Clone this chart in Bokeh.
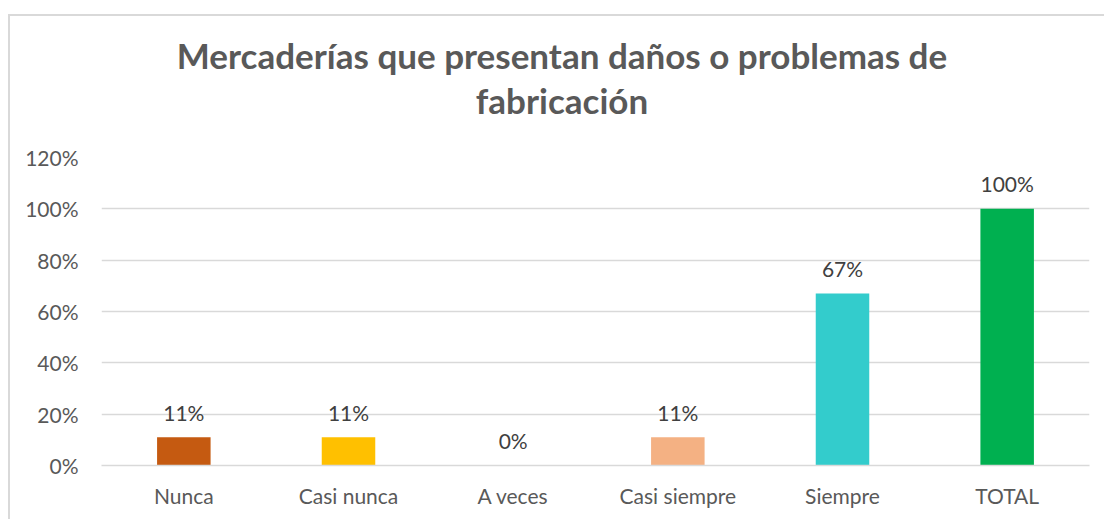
from bokeh.plotting import figure
from bokeh.models import FactorRange, Range1d, FixedTicker, NumeralTickFormatter, ColumnDataSource, Div
from bokeh.layouts import column
from bokeh.core.properties import value as v
from bokeh.embed import file_html
from bokeh.resources import INLINE

categories = ["Nunca", "Casi nunca", "A veces", "Casi siempre", "Siempre", "TOTAL"]
values = [0.11, 0.11, 0.0, 0.11, 0.67, 1.00]
value_labels = ["11%", "11%", "0%", "11%", "67%", "100%"]
colors = ["#C55A11", "#FFC000", "#A5A5A5", "#F4B183", "#33CCCC", "#00B050"]
y_ticks = [0, 0.2, 0.4, 0.6, 0.8, 1.0, 1.2]
title_lines = ["Mercaderías que presentan daños o problemas de", "fabricación"]

FONT = "Lato"
W = 1094

title_html = (
    "<div style=\"font-family:'Lato'; font-weight:bold; font-size:35px; line-height:45px; "
    "color:#595959; text-align:center; padding:17px 0 0 10px; margin:0; "
    f"box-sizing:border-box; width:{W}px; overflow:hidden;\">"
    + "<br>".join(title_lines) + "</div>"
)
title_div = Div(text=title_html, width=W, height=120, margin=0)

src = ColumnDataSource(dict(cat=categories, val=values, lab=value_labels, col=colors))

p = figure(width=W, height=383, x_range=FactorRange(factors=categories),
           y_range=Range1d(0, 1.2), output_backend="svg", toolbar_location=None,
           min_border_left=91, min_border_right=15, min_border_top=21, min_border_bottom=54,
           margin=0)
p.title.visible = False
p.outline_line_color = None
p.background_fill_color = "white"
p.border_fill_color = "white"

p.vbar(x="cat", top="val", width=0.325, source=src, fill_color="col", line_color=None)

p.text(x="cat", y="val", text="lab", source=src, y_offset=-25, text_align="center",
       text_baseline="alphabetic", text_font=v(FONT), text_font_size="21px", text_color="#404040")

p.yaxis.ticker = FixedTicker(ticks=y_ticks)
p.yaxis.formatter = NumeralTickFormatter(format="0%")
p.yaxis.axis_line_color = None
p.yaxis.major_tick_line_color = None
p.yaxis.minor_tick_line_color = None
p.yaxis.major_label_standoff = 17
p.yaxis.major_label_text_font = FONT
p.yaxis.major_label_text_font_size = "21px"
p.yaxis.major_label_text_color = "#595959"

p.xaxis.axis_line_color = "#D9D9D9"
p.xaxis.axis_line_width = 1.5
p.xaxis.major_tick_line_color = None
p.xaxis.minor_tick_line_color = None
p.xaxis.major_label_standoff = 11
p.xaxis.major_label_text_font = FONT
p.xaxis.major_label_text_font_size = "21px"
p.xaxis.major_label_text_color = "#595959"

p.xgrid.grid_line_color = None
p.ygrid.grid_line_color = "#D9D9D9"
p.ygrid.grid_line_width = 1.5

root = column(title_div, p, margin=(14, 0, 0, 8),
              styles={"border-top": "2px solid #D9D9D9", "border-left": "2px solid #D9D9D9",
                      "border-right": "none", "border-bottom": "none"})

open("out.html", "w").write(file_html(root, INLINE))
